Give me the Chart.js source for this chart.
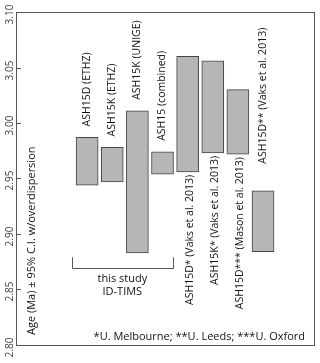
<!DOCTYPE html>
<html>
<head>
<meta charset="utf-8">
<script src="https://cdn.jsdelivr.net/npm/chart.js@4"></script>
<style>
  html, body { margin: 0; padding: 0; background: #fff; }
  #wrap { width: 320px; height: 363px; }
</style>
</head>
<body>
<div id="wrap"><canvas id="chart"></canvas></div>
<script>
// samples, in the order they appear left to right
const categories = [
  'ASH15D (ETHZ)',
  'ASH15K (ETHZ)',
  'ASH15K (UNIGE)',
  'ASH15 (combined)',
  'ASH15D* (Vaks et al. 2013)',
  'ASH15K* (Vaks et al. 2013)',
  'ASH15D*** (Mason et al. 2013)',
  'ASH15D** (Vaks et al. 2013)'
]
// age range in Ma (95% C.I. w/ overdispersion)
const ageLow  = [2.944, 2.947, 2.883, 2.954, 2.956, 2.973, 2.972, 2.884]
const ageHigh = [2.987, 2.978, 3.011, 2.974, 3.060, 3.056, 3.030, 2.939]
const yTicks = [2.80, 2.85, 2.90, 2.95, 3.00, 3.05, 3.10]

const FONT = '"Open Sans", "DejaVu Sans", sans-serif'
const frameColor = '#555'

// label placement per bar (style only)
const labelStyle = {
  above: [true, true, true, true, false, false, false, true],
  gap:   [11, 11, 11, 11, 3, 3, 3, 27]
}

// plugin: frame, inside tick marks, rotated tick labels, bar labels and notes
const decorations = {
  id: 'decorations',
  afterDatasetsDraw(chart) {
    const { ctx, chartArea: a, scales: { x, y } } = chart
    ctx.save()

    // frame
    ctx.strokeStyle = frameColor
    ctx.lineWidth = 1
    ctx.strokeRect(Math.round(a.left) + 0.5, Math.round(a.top) + 0.5,
      Math.round(a.right - a.left), Math.round(a.bottom - a.top))

    // ticks + rotated labels
    ctx.fillStyle = '#444'
    ctx.font = '10px ' + FONT
    ctx.textAlign = 'center'
    ctx.textBaseline = 'middle'
    yTicks.forEach(v => {
      const py = Math.round(y.getPixelForValue(v)) + 0.5
      ctx.beginPath()
      ctx.moveTo(a.left, py)
      ctx.lineTo(a.left + 5, py)
      ctx.stroke()
      ctx.save()
      ctx.translate(a.left - 6, py + 2)
      ctx.rotate(-Math.PI / 2)
      ctx.fillText(v.toFixed(2), 0, 0)
      ctx.restore()
    })

    // bar labels
    ctx.fillStyle = '#111'
    ctx.font = '10.5px ' + FONT
    categories.forEach((name, i) => {
      const px = x.getPixelForValue(i + 1)
      const above = labelStyle.above[i]
      const py = above
        ? y.getPixelForValue(ageHigh[i]) - labelStyle.gap[i]
        : y.getPixelForValue(ageLow[i]) + labelStyle.gap[i]
      ctx.save()
      ctx.translate(px + (above ? 0 : 2), py)
      ctx.rotate(-Math.PI / 2)
      ctx.textAlign = above ? 'left' : 'right'
      ctx.fillText(name, 0, 0)
      ctx.restore()
    })

    // axis title, drawn inside the plot
    ctx.save()
    ctx.font = '11px ' + FONT
    ctx.translate(a.left + 16, a.bottom - 10)
    ctx.rotate(-Math.PI / 2)
    ctx.textAlign = 'left'
    ctx.fillText('Age (Ma) \u00b1 95% C.I. w/overdispersion', 0, 0)
    ctx.restore()

    // bracket for this study
    const bx1 = x.getPixelForValue(1) - 15
    const bx2 = x.getPixelForValue(4) + 10
    const by = Math.round(y.getPixelForValue(2.869)) + 0.5
    const byTop = y.getPixelForValue(2.879)
    ctx.strokeStyle = frameColor
    ctx.beginPath()
    ctx.moveTo(Math.round(bx1) + 0.5, byTop)
    ctx.lineTo(Math.round(bx1) + 0.5, by)
    ctx.lineTo(Math.round(bx2) + 0.5, by)
    ctx.lineTo(Math.round(bx2) + 0.5, byTop)
    ctx.stroke()

    ctx.font = '11px ' + FONT
    ctx.textAlign = 'center'
    const cx = (bx1 + bx2) / 2
    ctx.fillText('this study', cx, y.getPixelForValue(2.860))
    ctx.fillText('ID-TIMS', cx, y.getPixelForValue(2.8475))

    // footnote
    ctx.textAlign = 'right'
    ctx.fillText('*U. Melbourne; **U. Leeds; ***U. Oxford', a.right - 9, a.bottom - 8)

    ctx.restore()
  }
}

new Chart(document.getElementById('chart'), {
  type: 'bar',
  data: {
    datasets: [{
      data: categories.map((c, i) => ({ x: i + 1, y: [ageLow[i], ageHigh[i]] })),
      backgroundColor: '#b6b6b6',
      borderColor: '#444',
      borderWidth: 1,
      borderSkipped: false,
      barThickness: 22
    }]
  },
  options: {
    responsive: true,
    maintainAspectRatio: false,
    animation: false,
    layout: { padding: { left: 16, right: 6, top: 12, bottom: 18 } },
    plugins: { legend: { display: false }, tooltip: { enabled: false } },
    scales: {
      x: { type: 'linear', min: -0.645, max: 8.843, display: false },
      y: { type: 'linear', min: 2.8, max: 3.1, display: false }
    }
  },
  plugins: [decorations]
})
</script>
</body>
</html>
